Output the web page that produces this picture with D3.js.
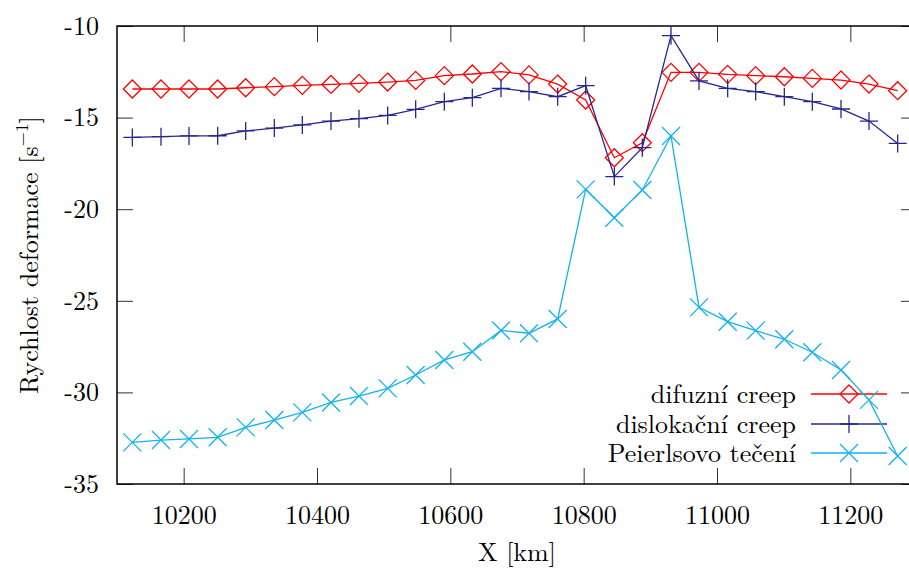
<!DOCTYPE html>
<html>
<head>
<meta charset="utf-8">
<script src="https://cdn.jsdelivr.net/npm/d3@7"></script>
<style>
  body { margin: 0; background: #fff; }
  svg text {
    font-family: "Latin Modern Roman", "CMU Serif", "Liberation Serif", "DejaVu Serif", "Noto Serif",
      "TeX Gyre Termes", "Nimbus Roman", "Nimbus Roman No9 L", FreeSerif, Tinos, "Times New Roman",
      Times, Georgia, "PT Serif", "Source Serif Pro", "Droid Serif", serif !important;
    fill: #000;
  }
</style>
</head>
<body>
<div id="LineChart"></div>
<script>
// x positions [km]
const xValues = [10123, 10166, 10208, 10251, 10293, 10336, 10378, 10421, 10463, 10506,
  10548, 10591, 10633, 10676, 10718, 10761, 10803, 10846, 10888, 10931,
  10973, 11016, 11058, 11101, 11143, 11186, 11228, 11271];

// log strain rate [s^-1]
const difuzniCreep = [-13.44, -13.44, -13.44, -13.44, -13.37, -13.31, -13.24, -13.19, -13.13, -13.06,
  -12.97, -12.71, -12.62, -12.49, -12.67, -13.17, -14.04, -17.19, -16.37, -12.53,
  -12.53, -12.64, -12.71, -12.77, -12.86, -12.95, -13.17, -13.53];

const dislokacniCreep = [-16.08, -16.04, -16.0, -15.99, -15.73, -15.57, -15.40, -15.19, -15.06, -14.88,
  -14.55, -14.13, -13.91, -13.40, -13.58, -13.86, -13.26, -18.22, -16.64, -10.53,
  -13.0, -13.40, -13.58, -13.86, -14.13, -14.53, -15.19, -16.41];

const peierlsovoTeceni = [-32.73, -32.60, -32.54, -32.45, -31.91, -31.51, -31.09, -30.55, -30.20, -29.78,
  -29.05, -28.23, -27.78, -26.62, -26.77, -25.99, -18.92, -20.47, -18.95, -16.0,
  -25.36, -26.14, -26.63, -27.10, -27.81, -28.78, -30.41, -33.47];

const xTicks = [10200, 10400, 10600, 10800, 11000, 11200];
const yTicks = [-35, -30, -25, -20, -15, -10];

const seriesNames = ['difuzní creep', 'dislokační creep', 'Peierlsovo tečení'];

let width = 909;
let height = 571;
let plotLeft = 117, plotRight = 917, plotTop = 26, plotBottom = 484;
let tickLen = 16;

let series = [
  { name: seriesNames[0], values: difuzniCreep, color: '#ff0000', marker: 'diamond' },
  { name: seriesNames[1], values: dislokacniCreep, color: '#27278f', marker: 'plus' },
  { name: seriesNames[2], values: peierlsovoTeceni, color: '#13b2ec', marker: 'cross' },
];

/* Scale */
let xScale = d3.scaleLinear().domain([10100, 11300]).range([plotLeft, plotRight]);
let yScale = d3.scaleLinear().domain([-35, -10]).range([plotBottom, plotTop]);

let svg = d3.select('#LineChart')
  .append('svg')
  .attr('width', width)
  .attr('height', height);

/* Axes, ticks on all four sides pointing inward */
let axisColor = '#333';
svg.append('g')
  .attr('transform', `translate(0, ${plotBottom})`)
  .call(d3.axisBottom(xScale).tickValues(xTicks).tickSizeInner(-tickLen).tickSizeOuter(0).tickPadding(22)
    .tickFormat(d3.format('d')))
  .call(g => g.select('.domain').remove())
  .call(g => g.selectAll('line').attr('stroke', axisColor))
  .call(g => g.selectAll('text').attr('font-size', 26));

svg.append('g')
  .attr('transform', `translate(0, ${plotTop})`)
  .call(d3.axisTop(xScale).tickValues(xTicks).tickSizeInner(-tickLen).tickSizeOuter(0).tickFormat(''))
  .call(g => g.select('.domain').remove())
  .call(g => g.selectAll('line').attr('stroke', axisColor));

svg.append('g')
  .attr('transform', `translate(${plotLeft}, 0)`)
  .call(d3.axisLeft(yScale).tickValues(yTicks).tickSizeInner(-tickLen).tickSizeOuter(0).tickPadding(18)
    .tickFormat(d => d))
  .call(g => g.select('.domain').remove())
  .call(g => g.selectAll('line').attr('stroke', axisColor))
  .call(g => g.selectAll('text').attr('font-size', 26));

svg.append('g')
  .attr('transform', `translate(${plotRight}, 0)`)
  .call(d3.axisRight(yScale).tickValues(yTicks).tickSizeInner(-tickLen).tickSizeOuter(0).tickFormat(''))
  .call(g => g.select('.domain').remove())
  .call(g => g.selectAll('line').attr('stroke', axisColor));

svg.append('rect')
  .attr('x', plotLeft).attr('y', plotTop)
  .attr('width', plotRight - plotLeft).attr('height', plotBottom - plotTop)
  .attr('fill', 'none').attr('stroke', '#000').attr('stroke-width', 1.5);

/* Axis titles */
svg.append('text')
  .attr('x', (plotLeft + plotRight) / 2)
  .attr('y', 561)
  .attr('text-anchor', 'middle')
  .attr('font-size', 26)
  .text('X [km]');

let yTitle = svg.append('text')
  .attr('transform', `translate(38, ${(plotTop + plotBottom) / 2}) rotate(-90)`)
  .attr('text-anchor', 'middle')
  .attr('font-size', 26);
yTitle.append('tspan').text('Rychlost deformace [s');
yTitle.append('tspan').attr('dy', -10).attr('font-size', 18).text('−1');
yTitle.append('tspan').attr('dy', 10).text(']');

/* Markers */
let markerSize = 9;
function markerPath(type, s) {
  if (type === 'diamond') return `M0,${-s}L${s},0L0,${s}L${-s},0Z`;
  if (type === 'plus') return `M${-s},0H${s}M0,${-s}V${s}`;
  return `M${-s},${-s}L${s},${s}M${-s},${s}L${s},${-s}`;
}

let line = d3.line()
  .x(d => xScale(d.x))
  .y(d => yScale(d.y));

let legendTextX = 796;
let legendLine = [811, 887];
let legendY = [394, 424, 453];

series.forEach((s, k) => {
  let data = xValues.map((x, i) => ({ x: x, y: s.values[i] }));
  let g = svg.append('g').attr('class', 'series');

  g.append('path')
    .attr('d', line(data))
    .attr('fill', 'none')
    .attr('stroke', s.color)
    .attr('stroke-width', 1.3);

  g.selectAll('.marker')
    .data(data)
    .enter()
    .append('path')
    .attr('class', 'marker')
    .attr('transform', d => `translate(${xScale(d.x)}, ${yScale(d.y)})`)
    .attr('d', markerPath(s.marker, markerSize))
    .attr('fill', 'none')
    .attr('stroke', s.color)
    .attr('stroke-width', 1.3);

  /* legend entry */
  g.append('text')
    .attr('x', legendTextX)
    .attr('y', legendY[k])
    .attr('dy', '0.33em')
    .attr('text-anchor', 'end')
    .attr('font-size', 26)
    .text(s.name);

  g.append('line')
    .attr('x1', legendLine[0]).attr('x2', legendLine[1])
    .attr('y1', legendY[k]).attr('y2', legendY[k])
    .attr('stroke', s.color)
    .attr('stroke-width', 1.3);

  g.append('path')
    .attr('transform', `translate(${(legendLine[0] + legendLine[1]) / 2}, ${legendY[k]})`)
    .attr('d', markerPath(s.marker, markerSize))
    .attr('fill', 'none')
    .attr('stroke', s.color)
    .attr('stroke-width', 1.3);
});
</script>
</body>
</html>
